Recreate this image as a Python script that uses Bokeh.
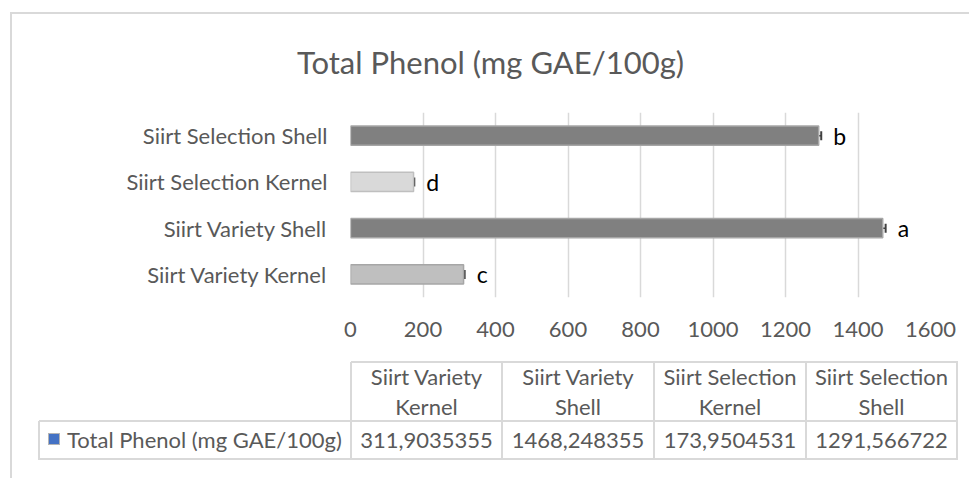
import html
from bokeh.plotting import figure
from bokeh.models import (ColumnDataSource, Range1d, FactorRange, Whisker,
                          TeeHead, FixedTicker, Div, Spacer)
from bokeh.layouts import column, row
from bokeh.core.properties import value
from bokeh.embed import file_html
from bokeh.resources import INLINE

# ---- data ----
categories = ["Siirt Variety Kernel", "Siirt Variety Shell",
              "Siirt Selection Kernel", "Siirt Selection Shell"]
phenol = [311.9035355, 1468.248355, 173.9504531, 1291.566722]
errors = [3, 8, 2, 7]
letters = ["c", "a", "d", "b"]
x_ticks = [0, 200, 400, 600, 800, 1000, 1200, 1400, 1600]
series_name = "Total Phenol (mg GAE/100g)"
title_text = "Total Phenol (mg GAE/100g)"

# ---- styles ----
bar_fill = ["#bfbfbf", "#808080", "#d9d9d9", "#808080"]
bar_line = ["#a6a6a6", "#a6a6a6", "#bfbfbf", "#a6a6a6"]
FONT = "Lato"
TXT = "#595959"
GRID = "#d9d9d9"

W = 957
HT = 70    # title strip
H1 = 266   # plot
H2 = 128   # data table

src = ColumnDataSource(dict(
    cat=categories, val=phenol,
    upper=[v + e for v, e in zip(phenol, errors)],
    lower=[v - e for v, e in zip(phenol, errors)],
    letter=letters, fill=bar_fill, line=bar_line,
))

p1 = figure(width=W, height=H1, x_range=Range1d(0, 1600),
            y_range=FactorRange(factors=categories, range_padding=0),
            output_backend="svg", toolbar_location=None,
            min_border_left=338, min_border_right=39,
            min_border_top=28, min_border_bottom=53, margin=0)
p1.outline_line_color = None
p1.background_fill_color = "white"
p1.border_fill_color = "white"

p1.hbar(y="cat", left=0, right="val", height=0.42, source=src,
        fill_color="fill", line_color="line", line_width=1.5)

whisk = Whisker(source=src, base="cat", upper="upper", lower="lower",
                dimension="width", line_color="#404040", line_width=1.5,
                upper_head=TeeHead(size=9, line_color="#404040", line_width=2),
                lower_head=TeeHead(size=9, line_color="#404040", line_width=2))
p1.add_layout(whisk)

p1.text(x="upper", y="cat", text="letter", source=src, x_offset=12,
        text_align="left", text_baseline="middle",
        text_font=value(FONT), text_font_size="23px", text_color="#000000")

p1.xgrid.ticker = FixedTicker(ticks=x_ticks)
p1.xgrid.grid_line_color = GRID
p1.xgrid.grid_line_width = 1.5
p1.ygrid.grid_line_color = None

xa = p1.xaxis[0]
xa.ticker = FixedTicker(ticks=x_ticks)
xa.axis_line_color = None
xa.major_tick_line_color = None
xa.minor_tick_line_color = None
xa.major_label_standoff = 18
xa.major_label_text_font = FONT
xa.major_label_text_font_size = "22px"
xa.major_label_text_color = TXT

ya = p1.yaxis[0]
ya.axis_line_color = None
ya.major_tick_line_color = None
ya.minor_tick_line_color = None
ya.major_label_standoff = 17
ya.major_label_text_font = FONT
ya.major_label_text_font_size = "22px"
ya.major_label_text_color = TXT

# ---- chart title ----
title_div = Div(
    text=(f'<div style="position:relative;width:{W}px;height:{HT}px">'
          f'<div style="position:absolute;left:0;top:28px;width:{W}px;height:40px;'
          f'line-height:40px;text-align:center;font-family:Lato;font-size:31px;'
          f'color:{TXT};white-space:nowrap">{html.escape(title_text)}</div></div>'),
    width=W, height=HT, margin=0)

# ---- data table (HTML, positioned under the plot) ----
col_edges = [339, 490, 642, 794, 945]
y_top, y_mid, y_bot = 12, 71, 109
leg_left = 27
LW = 1.5

parts = []


def hline(x0, x1, y):
    parts.append(f'<div style="position:absolute;left:{x0}px;top:{y - LW / 2}px;'
                 f'width:{x1 - x0 + LW / 2}px;height:{LW}px;background:{GRID}"></div>')


def vline(x, y0, y1):
    parts.append(f'<div style="position:absolute;left:{x - LW / 2}px;top:{y0}px;'
                 f'width:{LW}px;height:{y1 - y0 + LW / 2}px;background:{GRID}"></div>')


def cell_text(x0, x1, yc, txt, align="center"):
    parts.append(f'<div style="position:absolute;left:{x0}px;top:{yc - 15}px;'
                 f'width:{x1 - x0}px;height:30px;line-height:30px;text-align:{align};'
                 f'white-space:nowrap">{html.escape(txt)}</div>')


hline(col_edges[0], col_edges[-1], y_top)
hline(leg_left, col_edges[-1], y_mid)
hline(leg_left, col_edges[-1], y_bot)
for xe in col_edges:
    vline(xe, y_top, y_bot)
vline(leg_left, y_mid, y_bot)

vals_txt = [f"{v:.10g}".replace(".", ",") for v in phenol]
for i, cat in enumerate(categories):
    a, b = col_edges[i], col_edges[i + 1]
    first, second = cat.rsplit(" ", 1)
    cell_text(a, b, 27, first)
    cell_text(a, b, 57, second)
    cell_text(a, b, 90, vals_txt[i])

parts.append('<div style="position:absolute;left:36px;top:83px;width:12px;height:12px;'
             'background:#4472c4;border:1px solid #b4b4b4"></div>')
cell_text(55, col_edges[0], 90, series_name, align="left")

table_html = (f'<div style="position:relative;width:{W}px;height:{H2}px;'
              f'font-family:Lato;font-size:22px;color:{TXT}">' + "".join(parts) + '</div>')
table_div = Div(text=table_html, width=W, height=H2, margin=0)

# ---- chart-area border (top and left edges) ----
top_line = Div(text="", width=W + 2, height=2, margin=0,
               styles={"background-color": GRID})
left_line = Div(text="", width=2, height=HT + H1 + H2, margin=0,
                styles={"background-color": GRID})

inner = row(left_line, column(title_div, p1, table_div, spacing=0, margin=0),
            spacing=0, margin=0)
outer = row(Spacer(width=10, height=10, margin=0),
            column(Spacer(width=10, height=12, margin=0), top_line, inner,
                   spacing=0, margin=0),
            spacing=0, margin=0)

open("out.html", "w").write(file_html(outer, INLINE))
